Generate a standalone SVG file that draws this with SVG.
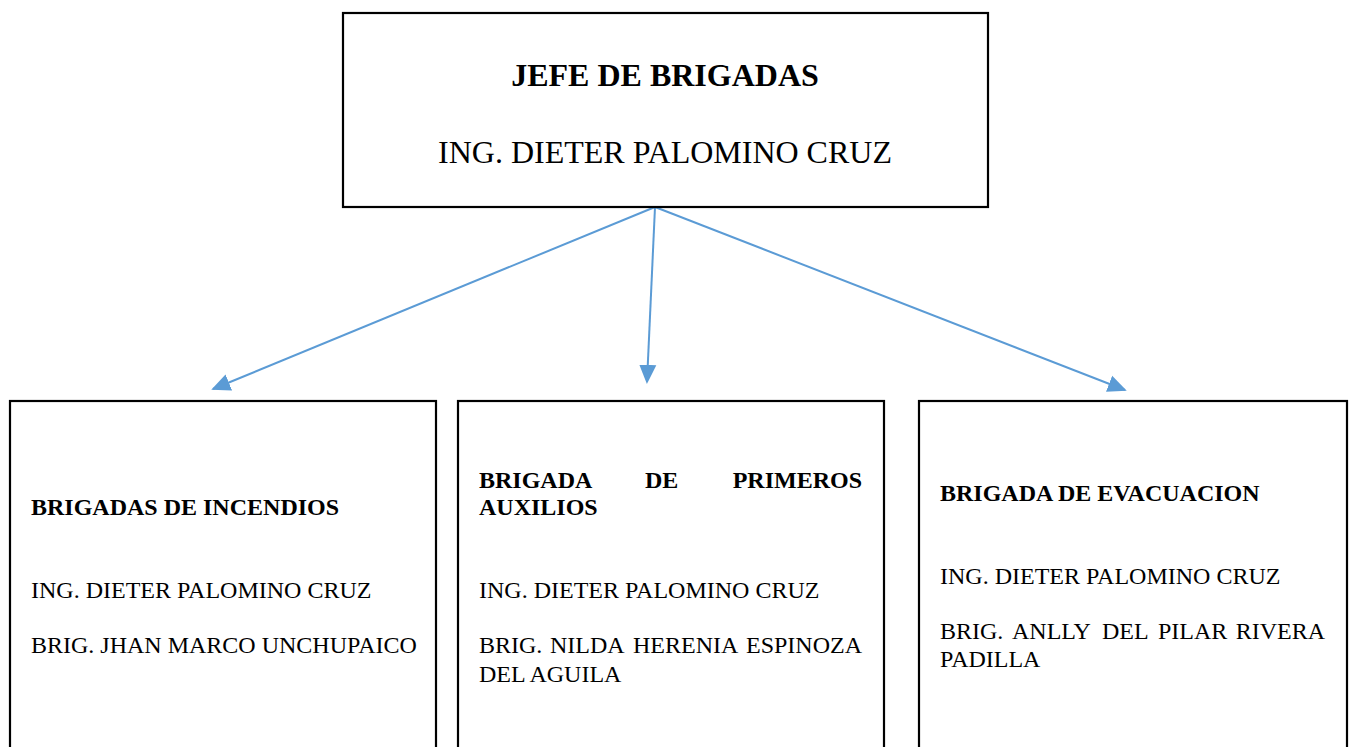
<svg xmlns="http://www.w3.org/2000/svg" width="1351" height="747" viewBox="0 0 1351 747">
<defs>
<style>
.box{fill:#fff;stroke:#000;stroke-width:2.2}
.t{font-family:"Liberation Serif","Times New Roman",serif;fill:#000}
.b{font-weight:bold}
.big{font-size:32px}
.sm{font-size:24px}
.con{stroke:#5B9BD5;stroke-width:2;fill:none}
</style>
<marker id="ah2" viewBox="0 0 10 10" refX="9" refY="5" markerWidth="19" markerHeight="19" markerUnits="userSpaceOnUse" orient="auto">
<path d="M0,0.5 L10,5 L0,9.5 z" fill="#5B9BD5"/>
</marker>
</defs>
<rect width="1351" height="747" fill="#fff"/>
<g id="connectors">
<line class="con" x1="655" y1="207" x2="213" y2="389" marker-end="url(#ah2)"/>
<line class="con" x1="655" y1="207" x2="647" y2="382" marker-end="url(#ah2)"/>
<line class="con" x1="655" y1="207" x2="1125" y2="390" marker-end="url(#ah2)"/>
</g>
<g id="jefe">
<rect class="box" x="343" y="13" width="645" height="194"/>
<text class="t b big" x="665" y="86" text-anchor="middle">JEFE DE BRIGADAS</text>
<text class="t big" x="665" y="163" text-anchor="middle">ING. DIETER PALOMINO CRUZ</text>
</g>
<g id="incendios">
<rect class="box" x="10" y="401" width="426" height="360"/>
<text class="t b sm" x="31" y="515">BRIGADAS DE INCENDIOS</text>
<text class="t sm" x="31" y="598">ING. DIETER PALOMINO CRUZ</text>
<text class="t sm" x="31" y="653">BRIG. JHAN MARCO UNCHUPAICO</text>
</g>
<g id="primeros">
<rect class="box" x="458" y="401" width="426" height="360"/>
<text class="t b sm" y="488"><tspan x="479">BRIGADA</tspan><tspan x="645">DE</tspan><tspan x="862" text-anchor="end">PRIMEROS</tspan></text>
<text class="t b sm" x="479" y="515">AUXILIOS</text>
<text class="t sm" x="479" y="598">ING. DIETER PALOMINO CRUZ</text>
<text class="t sm" y="653"><tspan x="479">BRIG.</tspan><tspan x="550">NILDA</tspan><tspan x="633">HERENIA</tspan><tspan x="862" text-anchor="end">ESPINOZA</tspan></text>
<text class="t sm" x="479" y="682">DEL AGUILA</text>
</g>
<g id="evacuacion">
<rect class="box" x="919" y="401" width="428" height="360"/>
<text class="t b sm" x="940" y="501">BRIGADA DE EVACUACION</text>
<text class="t sm" x="940" y="584">ING. DIETER PALOMINO CRUZ</text>
<text class="t sm" y="639"><tspan x="940">BRIG.</tspan><tspan x="1012">ANLLY</tspan><tspan x="1102">DEL</tspan><tspan x="1158">PILAR</tspan><tspan x="1325" text-anchor="end">RIVERA</tspan></text>
<text class="t sm" x="940" y="667">PADILLA</text>
</g>
</svg>
